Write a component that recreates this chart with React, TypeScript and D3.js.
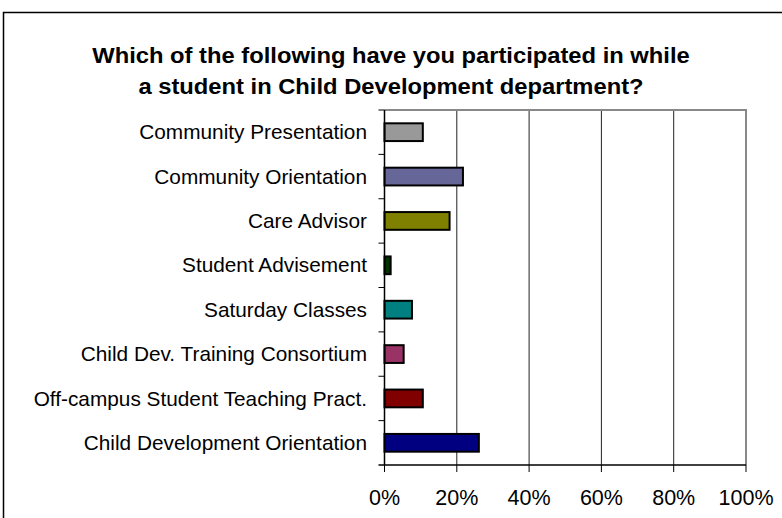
import React from "react";
import * as d3 from "d3";

const categories = [
  "Community Presentation",
  "Community Orientation",
  "Care Advisor",
  "Student Advisement",
  "Saturday Classes",
  "Child Dev. Training Consortium",
  "Off-campus Student Teaching Pract.",
  "Child Development Orientation",
];
const values = [10.6, 21.7, 18.0, 1.7, 7.6, 5.3, 10.6, 26.1];
const colors = ["#999999", "#666699", "#808000", "#003300", "#008080", "#993366", "#800000", "#000080"];
const xTicks = [0, 20, 40, 60, 80, 100];
const titleLines = [
  "Which of the following have you participated in while",
  "a student in Child Development department?",
];

export default function App() {
  const W = 782, H = 518;
  const left = 384.5, right = 746, top = 110, bottom = 465;
  const x = d3.scaleLinear().domain([0, 100]).range([left, right]);
  const y = d3.scaleBand<string>().domain(categories).range([top, bottom]).paddingInner(0.6).paddingOuter(0.3);
  const yb = d3.scaleBand<string>().domain(categories).range([top, bottom]);
  const font = "'Liberation Sans', Arial, sans-serif";
  const cx = 391;
  return (
    <svg width={W} height={H} style={{ position: "absolute", left: 0, top: 0, background: "#fff" }} fontFamily={font}>
      <rect x={0} y={0} width={W} height={H} fill="#fff" />
      <rect x={3.5} y={12.5} width={900} height={700} fill="none" stroke="#000" strokeWidth={1.5} />
      {titleLines.map((t, i) => (
        <text
          key={i}
          x={0}
          y={63.5 + i * 30.5}
          transform={`translate(${cx},0) scale(1.08,1)`}
          textAnchor="middle"
          fontWeight="bold"
          fontSize={22}
          fill="#000"
        >
          {t}
        </text>
      ))}
      {/* gridlines */}
      {xTicks.slice(1, -1).map((t) => (
        <line key={t} x1={x(t)} x2={x(t)} y1={top} y2={bottom} stroke="#222" strokeWidth={1} />
      ))}
      {/* plot border top/right */}
      <path d={`M${left},${top}H${right}V${bottom}`} fill="none" stroke="#888" strokeWidth={2} />
      {/* bars */}
      {categories.map((c, i) => (
        <rect
          key={c}
          x={x(0)}
          y={y(c)!}
          width={x(values[i]) - x(0)}
          height={y.bandwidth()}
          fill={colors[i]}
          stroke="#000"
          strokeWidth={2}
        />
      ))}
      {/* left axis */}
      <line x1={left} x2={left} y1={top} y2={bottom} stroke="#000" strokeWidth={1.5} />
      {categories.map((c) => (
        <line key={c} x1={left - 6} x2={left} y1={yb(c)!} y2={yb(c)!} stroke="#000" strokeWidth={1} />
      ))}
      {categories.map((c) => (
        <text key={c} x={367} y={yb(c)! + yb.bandwidth() / 2} dy="0.34em" textAnchor="end" fontSize={20.8} fill="#000">
          {c}
        </text>
      ))}
      {/* bottom axis */}
      <line x1={left - 6} x2={right} y1={bottom} y2={bottom} stroke="#000" strokeWidth={1.5} />
      {xTicks.map((t) => (
        <g key={t}>
          <line x1={x(t)} x2={x(t)} y1={bottom} y2={bottom + 7} stroke="#000" strokeWidth={1} />
          <text x={x(t)} y={505} textAnchor="middle" fontSize={21.5} fill="#000">
            {t}%
          </text>
        </g>
      ))}
    </svg>
  );
}
